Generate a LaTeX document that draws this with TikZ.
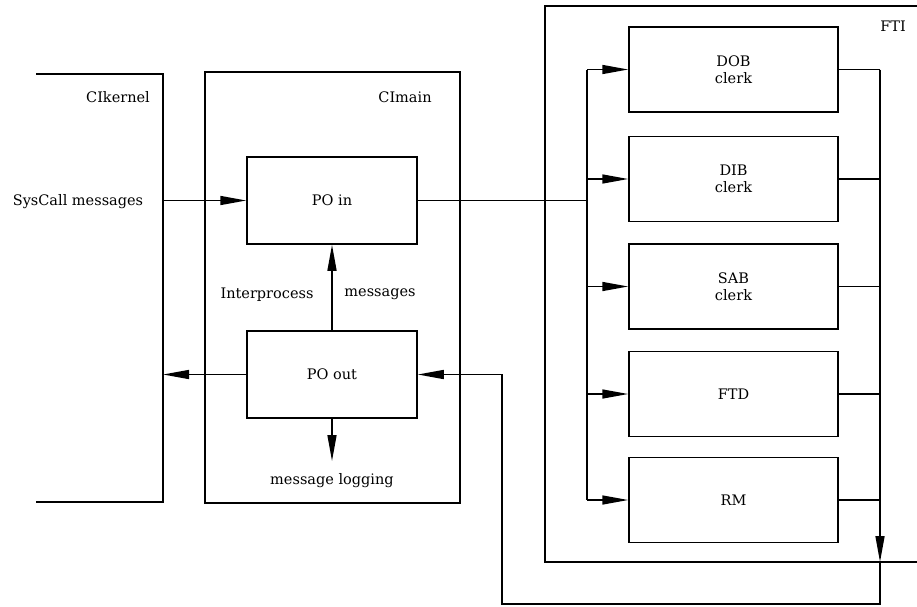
\documentclass[tikz,border=0pt]{standalone}
\usepackage{fontspec}
\setmainfont{DejaVu Serif}
\usetikzlibrary{arrows.meta}

\begin{document}
\begin{tikzpicture}[x=1pt,y=-1pt,line width=1.5pt,>={Triangle[length=26pt,width=9pt]},
  every node/.style={font=\fontsize{14.5}{17}\selectfont},
  pobox/.style={draw,minimum width=170pt,minimum height=87pt,inner sep=0pt},
  clerkbox/.style={draw,minimum width=209pt,minimum height=85pt,inner sep=0pt,align=center}]
  \useasboundingbox (0,0) rectangle (917,606);
  % process frames
  \draw (36,74) -- (163,74) -- (163,502) -- (36,502);
  \draw (205,72) rectangle (460,503);
  \draw (917,6) -- (545,6) -- (545,562) -- (917,562);
  \node (kname) at (118,97) {CIkernel};
  \node (mname) at (405,97) {CImain};
  \node (fname) at (893,26) {FTI};
  \coordinate (kR) at (163,0);
  \coordinate (bus) at (587,0);
  \coordinate (ret) at (880,0);
  \coordinate (logend) at (332,461);
  % CImain
  \node[pobox] (POin) at (332,200.5) {PO in};
  \node[pobox] (POout) at (332,374.5) {PO out};
  \node (sys) at (78,202) {SysCall messages};
  \node (ip) at (267,295) {Interprocess};
  \node (msg) at (380,294) {messages};
  \node (log) at (332,481) {message logging};
  \draw[->] (POin.west -| kR) -- (POin.west);
  \draw[->] (POout.north) -- (POin.south);
  \draw[->] (POout.west) -- (POout.west -| kR);
  \draw[->] (POout.south) -- (logend);
  % FTI
  \foreach \n/\y/\t in {DOB/69.5/{DOB\\clerk},DIB/179/{DIB\\clerk},SAB/286.5/{SAB\\clerk},FTD/394/{FTD},RM/500/{RM}}
    \node[clerkbox] (\n) at (733.5,\y) {\t};
  \draw (POin.east) -- (POin.east -| bus);
  \draw (DOB.west -| bus) -- (RM.west -| bus);
  \foreach \n in {DOB,DIB,SAB,FTD,RM} {
    \draw[->] (\n.west -| bus) -- (\n.west);
    \draw (\n.east) -- (\n.east -| ret);
  }
  \draw[->] (DOB.east -| ret) -- (880,562);
  \draw[->] (880,562) -- (880,604) -- (502,604) |- (POout.east);
\end{tikzpicture}
\end{document}
